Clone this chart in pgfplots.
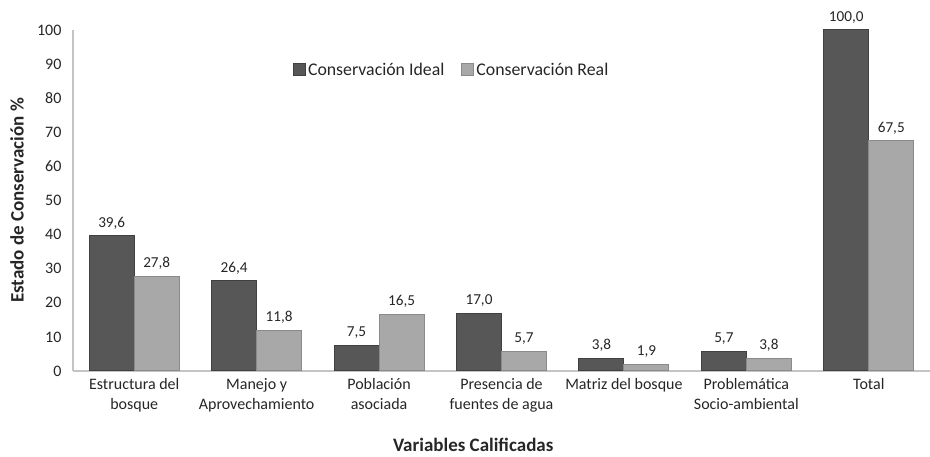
\documentclass[border=0pt]{standalone}
\usepackage{fontspec}
\setmainfont{Carlito}
\usepackage{pgfplots}
\pgfplotsset{compat=1.18}
\definecolor{darkbar}{HTML}{575757}
\definecolor{darkedge}{HTML}{404040}
\definecolor{lightbar}{HTML}{A8A8A8}
\definecolor{lightedge}{HTML}{8A8A8A}
\definecolor{axisgray}{HTML}{C4C4C4}
\definecolor{txt}{HTML}{262626}
\begin{document}
\begin{tikzpicture}
\useasboundingbox (-73pt,-86pt) rectangle (857pt,371pt);
\begin{axis}[
  at={(0pt,0pt)}, anchor=south west,
  width=857pt, height=341pt, scale only axis,
  ymin=0, ymax=100, xmin=-0.5, xmax=6.5,
  ybar=0pt, bar width=45pt,
  axis lines=left,
  axis line style={-, axisgray, line width=1.2pt},
  ytick={0,10,...,100},
  xtick={0,...,6},
  xticklabels={{Estructura del\\bosque},{Manejo y\\Aprovechamiento},{Población\\asociada},{Presencia de\\fuentes de agua},{Matriz del bosque},{Problemática\\Socio-ambiental},{Total}},
  major tick length=0pt,
  /pgf/number format/assume math mode=true,
  /pgf/number format/.cd, use comma, 1000 sep={},
  /pgfplots/.cd,
  yticklabel style={font=\fontsize{16}{19}\selectfont, text=txt, xshift=-8pt},
  xticklabel style={font=\fontsize{16}{19.5}\selectfont, text=txt, align=center, yshift=-4pt},
  xlabel={Variables Calificadas},
  ylabel={Estado de Conservación \%},
  xlabel style={font=\bfseries\fontsize{19}{22}\selectfont, text=txt, at={(axis description cs:0.467,0)}, anchor=center, yshift=-74pt},
  ylabel style={font=\bfseries\fontsize{19}{22}\selectfont, text=txt, at={(axis description cs:0,0.5)}, anchor=center, yshift=56pt},
  nodes near coords={\pgfmathprintnumber[fixed, fixed zerofill, precision=1, use comma, assume math mode=true]{\pgfplotspointmeta}},
  every node near coord/.append style={font=\fontsize{15.2}{18}\selectfont, text=txt, yshift=3pt},
  legend style={draw=none, fill=none, legend columns=2, at={(0.253,0.883)}, anchor=west,
    font=\fontsize{17.8}{21}\selectfont, text=txt,
    /tikz/every even column/.append style={column sep=15pt}},
  legend image code/.code={\filldraw[#1] (0pt,-6pt) rectangle (12pt,6pt);},
]
\addplot[fill=darkbar, draw=darkedge, line width=1pt] coordinates {(0,39.6) (1,26.4) (2,7.5) (3,17.0) (4,3.8) (5,5.7) (6,100.0)};
\addplot[fill=lightbar, draw=lightedge, line width=1pt] coordinates {(0,27.8) (1,11.8) (2,16.5) (3,5.7) (4,1.9) (5,3.8) (6,67.5)};
\legend{Conservación Ideal, Conservación Real}
\end{axis}
\end{tikzpicture}
\end{document}
